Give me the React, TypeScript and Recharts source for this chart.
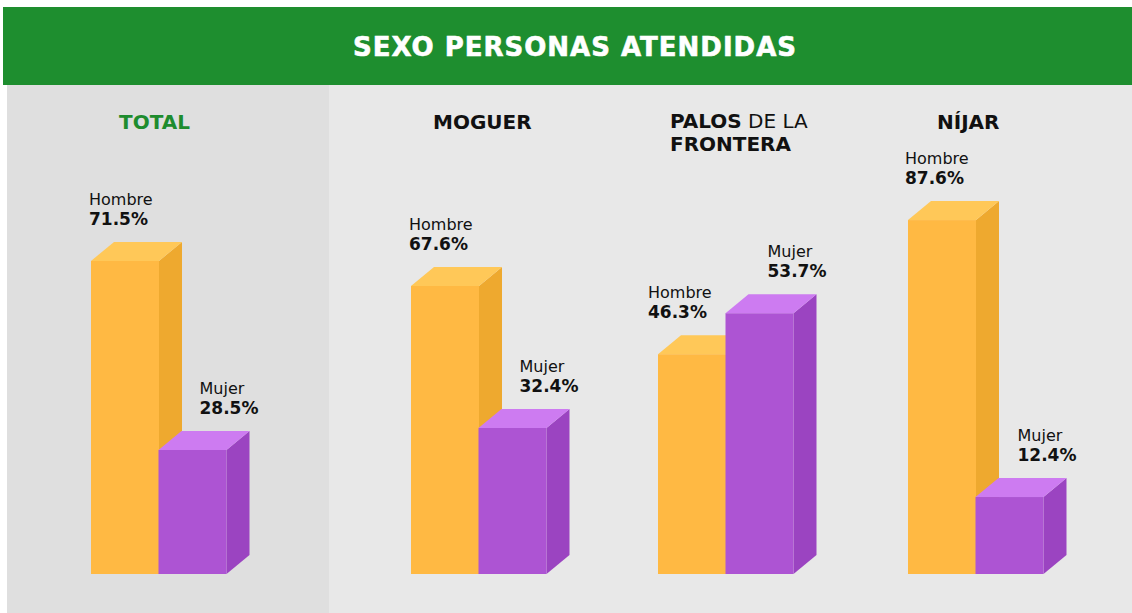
import React from 'react';
import { BarChart, Bar, XAxis, YAxis } from 'recharts';

// ---- data ----
const title = 'SEXO PERSONAS ATENDIDAS';
const panelNames = ['TOTAL', 'MOGUER', 'PALOS DE LA FRONTERA', 'NÍJAR'];
const categories = ['Hombre', 'Mujer'];
const hombreValues = [71.5, 67.6, 46.3, 87.6];
const mujerValues = [28.5, 32.4, 53.7, 12.4];
// per-panel value range of the (hidden) value axis
const domainMin = [0.3, -3.8, 6.6, -8.5];
const domainMax = [108.1, 113.7, 92.2, 120.2];

// ---- layout / style ----
const FRONT_LEFT = [91, 411, 658, 908];
const LABEL_DX = [
  [-2, 41],
  [-2, 41],
  [-10, 42],
  [-3, 42],
];
const CHART_TOP = 90;
const CHART_H = 490;
const MARGIN = { top: 10, right: 100, bottom: 6, left: 20 };
const PLOT_BOTTOM = CHART_H - MARGIN.bottom;
const PLOT_W = 135;
const CHART_W = MARGIN.left + PLOT_W + MARGIN.right;
const DX = 23;
const DY = 19;
const COLORS = [
  { front: '#FFB943', side: '#EEA92F', top: '#FFC858' },
  { front: '#AD54D3', side: '#9B44C1', top: '#CD7BF1' },
];
const FONT = '"DejaVu Sans", Verdana, sans-serif';

const makeShape = (panel: number) => (props: any) => {
  const { x, y, width, index } = props;
  const bottom = PLOT_BOTTOM;
  const c = COLORS[index];
  const w = width;
  const name = categories[index];
  const value = index === 0 ? hombreValues[panel] : mujerValues[panel];
  const lx = x + LABEL_DX[panel][index];
  return (
    <g>
      <polygon
        points={`${x + w},${y} ${x + w + DX},${y - DY} ${x + w + DX},${bottom - DY} ${x + w},${bottom}`}
        fill={c.side}
      />
      <rect x={x} y={y} width={w} height={bottom - y} fill={c.front} />
      <polygon
        points={`${x},${y} ${x + DX},${y - DY} ${x + w + DX},${y - DY} ${x + w},${y}`}
        fill={c.top}
      />
      <text x={lx} y={y - 56} fontFamily={FONT} fontSize={16} fill="#111">
        {name}
      </text>
      <text x={lx} y={y - 36} fontFamily={FONT} fontSize={17} fontWeight="bold" fill="#111">
        {value.toFixed(1)}%
      </text>
    </g>
  );
};

function Panel({ panel }: { panel: number }) {
  const data = categories.map((name, i) => ({
    name,
    value: i === 0 ? hombreValues[panel] : mujerValues[panel],
  }));
  return (
    <div
      style={{
        position: 'absolute',
        left: FRONT_LEFT[panel] - MARGIN.left,
        top: CHART_TOP,
        width: CHART_W,
        height: CHART_H,
      }}
    >
      <BarChart
        width={CHART_W}
        height={CHART_H}
        data={data}
        margin={MARGIN}
        barCategoryGap={0}
        barGap={0}
      >
        <XAxis dataKey="name" hide />
        <YAxis type="number" hide domain={[domainMin[panel], domainMax[panel]]} allowDataOverflow />
        <Bar dataKey="value" isAnimationActive={false} shape={makeShape(panel)} />
      </BarChart>
    </div>
  );
}

export default function App() {
  return (
    <div
      style={{
        position: 'fixed',
        left: 0,
        top: 0,
        width: 1132,
        height: 613,
        background: '#ffffff',
        overflow: 'hidden',
      }}
    >
      <svg width={1132} height={613} style={{ position: 'absolute', left: 0, top: 0 }}>
        <rect x={7} y={84} width={1125} height={529} fill="#e8e8e8" />
        <rect x={7} y={84} width={322} height={529} fill="#dfdfdf" />
        <rect x={3} y={7} width={1129} height={78} fill="#1e8e2f" />
        <text
          x={575}
          y={56}
          textAnchor="middle"
          fontFamily={FONT}
          fontWeight="bold"
          fontSize={26}
          letterSpacing={1}
          fill="#ffffff"
          stroke="#ffffff"
          strokeWidth={0.6}
        >
          {title}
        </text>
        <text x={119} y={129} fontFamily={FONT} fontWeight="bold" fontSize={20} fill="#1e8c2e">
          {panelNames[0]}
        </text>
        <text x={433} y={129} fontFamily={FONT} fontWeight="bold" fontSize={20} fill="#111">
          {panelNames[1]}
        </text>
        <text x={670} y={128} fontFamily={FONT} fontSize={20} fill="#111">
          <tspan fontWeight="bold">PALOS</tspan>
          <tspan> DE LA</tspan>
        </text>
        <text x={670} y={151} fontFamily={FONT} fontWeight="bold" fontSize={20} fill="#111">
          FRONTERA
        </text>
        <text x={937} y={129} fontFamily={FONT} fontWeight="bold" fontSize={20} fill="#111">
          {panelNames[3]}
        </text>
      </svg>
      {panelNames.map((_, i) => (
        <Panel key={i} panel={i} />
      ))}
    </div>
  );
}
